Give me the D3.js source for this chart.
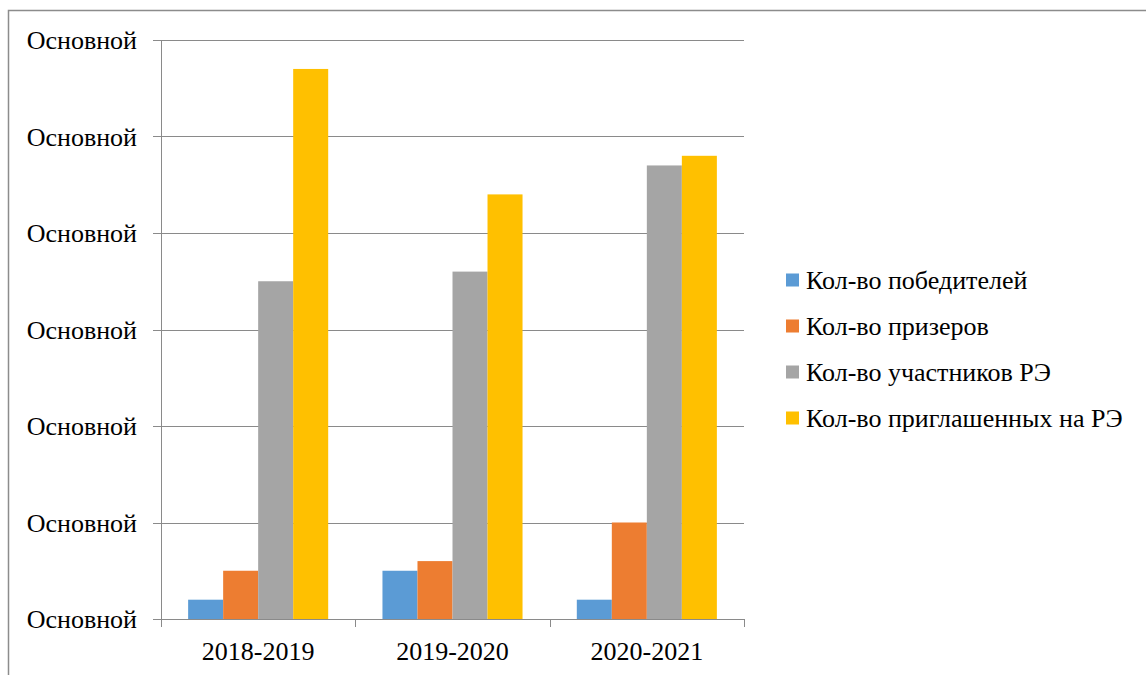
<!DOCTYPE html>
<html><head><meta charset="utf-8">
<script src="https://cdn.jsdelivr.net/npm/d3@7/dist/d3.min.js"></script>
<style>body{margin:0;background:#fff}svg{display:block}</style>
</head><body>
<script>
const categories = ["2018-2019", "2019-2020", "2020-2021"];
const seriesNames = ["Кол-во победителей", "Кол-во призеров", "Кол-во участников РЭ", "Кол-во приглашенных на РЭ"];
const winners = [2, 5, 2];
const prizewinners = [5, 6, 10];
const participants = [35, 36, 47];
const invited = [57, 44, 48];
const yTicks = [0, 10, 20, 30, 40, 50, 60];
const yTickLabel = "Основной";
const colors = ["#5B9BD5", "#ED7D31", "#A5A5A5", "#FFC000"];

const series = [winners, prizewinners, participants, invited];

const W = 1146, H = 675;
const svg = d3.select("body").append("svg").attr("width", W).attr("height", H);
const font = "'Liberation Serif'";

svg.append("rect").attr("x", 8.5).attr("y", 10.5).attr("width", 1300).attr("height", 800)
  .attr("fill", "none").attr("stroke", "#8c8c8c").attr("stroke-width", 1.5);

const pLeft = 161, pRight = 744, pTop = 40, pBottom = 619;
const x0 = d3.scaleBand().domain(categories).range([pLeft, pRight]).padding(0);
const x1 = d3.scaleBand().domain(d3.range(4)).range([0, x0.bandwidth()]).paddingInner(0).paddingOuter(0.775);
const y = d3.scaleLinear().domain([0, 60]).range([pBottom, pTop]);

// gridlines
svg.append("g").selectAll("line").data(yTicks).join("line")
  .attr("x1", pLeft - 8).attr("x2", pRight)
  .attr("y1", d => Math.round(y(d)) + 0.5).attr("y2", d => Math.round(y(d)) + 0.5)
  .attr("stroke", "#8a8a8a").attr("stroke-width", 1);

// y axis line
svg.append("line").attr("x1", pLeft + 0.5).attr("x2", pLeft + 0.5).attr("y1", pTop).attr("y2", pBottom)
  .attr("stroke", "#8a8a8a");

// y labels
svg.append("g").selectAll("text").data(yTicks).join("text")
  .attr("x", 137).attr("y", d => y(d)).attr("dy", "0.35em")
  .attr("text-anchor", "end").style("font-family", font).style("font-size", "26px")
  .attr("fill", "#000").text(yTickLabel);

// bars
const g = svg.append("g");
categories.forEach((c, ci) => {
  series.forEach((s, si) => {
    g.append("rect")
      .attr("x", x0(c) + x1(si)).attr("width", x1.bandwidth())
      .attr("y", y(s[ci])).attr("height", y(0) - y(s[ci]))
      .attr("fill", colors[si]);
  });
});

// x axis line and ticks
svg.append("line").attr("x1", pLeft).attr("x2", pRight).attr("y1", pBottom + 0.5).attr("y2", pBottom + 0.5)
  .attr("stroke", "#8a8a8a");
const tickXs = categories.map(c => x0(c)).concat([x0(categories[categories.length - 1]) + x0.bandwidth()]);
svg.append("g").selectAll("line").data(tickXs).join("line")
  .attr("x1", d => Math.round(d) + 0.5).attr("x2", d => Math.round(d) + 0.5)
  .attr("y1", pBottom).attr("y2", pBottom + 8).attr("stroke", "#8a8a8a");

svg.append("g").selectAll("text").data(categories).join("text")
  .attr("x", d => x0(d) + x0.bandwidth() / 2).attr("y", 660)
  .attr("text-anchor", "middle").style("font-family", font).style("font-size", "26px")
  .attr("fill", "#000").text(d => d);

// legend
const lg = svg.append("g");
seriesNames.forEach((n, i) => {
  const cy = 280 + i * 46;
  lg.append("rect").attr("x", 786).attr("y", cy - 6.5).attr("width", 13).attr("height", 13).attr("fill", colors[i]);
  lg.append("text").attr("x", 806).attr("y", cy).attr("dy", "0.35em")
    .style("font-family", font).style("font-size", "26px").attr("fill", "#000").text(n);
});
</script>
</body></html>
